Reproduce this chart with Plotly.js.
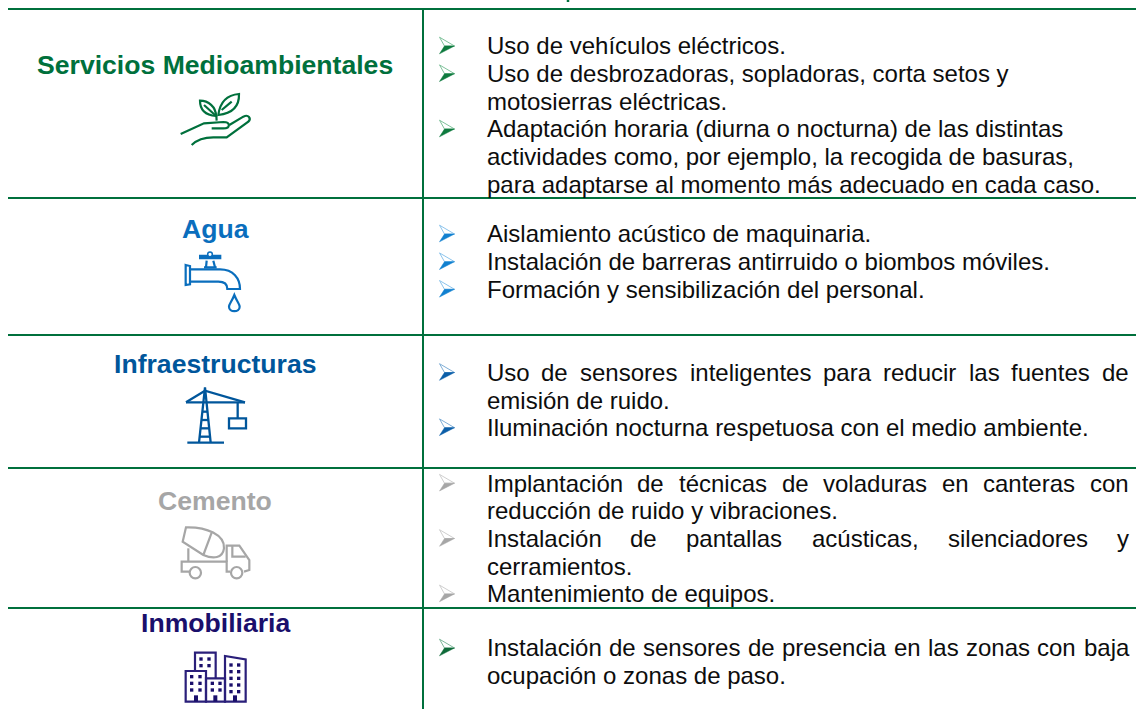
<!DOCTYPE html>
<html><head><meta charset="utf-8">
<script src="https://cdn.plot.ly/plotly-3.0.1.min.js"></script>
<style>html,body{margin:0;padding:0;background:#fff}#c{width:1136px;height:709px}</style>
</head><body><div id="c"></div>
<script>
// ---- content ----
const sectionNames = ["Servicios Medioambientales","Agua","Infraestructuras","Cemento","Inmobiliaria"];
const sectionColors = ["#00703c","#0a6ebd","#00569b","#a6a6a6","#1a0f6b"];
const bulletDark = ["#0e7a3e","#1080d0","#0b5ea8","#a6a6a6","#0e6a38"];
const bulletLight = ["#7fc29b","#8cc4ec","#7faed6","#cfcfcf","#7fb89b"];
const linesS1 = ["*Uso de vehículos eléctricos.","*Uso de desbrozadoras, sopladoras, corta setos y","motosierras eléctricas.","*Adaptación horaria (diurna o nocturna) de las distintas","actividades como, por ejemplo, la recogida de basuras,","para adaptarse al momento más adecuado en cada caso."];
const linesS2 = ["*Aislamiento acústico de maquinaria.","*Instalación de barreras antirruido o biombos móviles.","*Formación y sensibilización del personal."];
const linesS3 = ["*=Uso de sensores inteligentes para reducir las fuentes de","emisión de ruido.","*Iluminación nocturna respetuosa con el medio ambiente."];
const linesS4 = ["*=Implantación de técnicas de voladuras en canteras con","reducción de ruido y vibraciones.","*=Instalación de pantallas acústicas, silenciadores y","cerramientos.","*Mantenimiento de equipos."];
const linesS5 = ["*=Instalación de sensores de presencia en las zonas con baja","ocupación o zonas de paso."];
const allLines = [linesS1,linesS2,linesS3,linesS4,linesS5];

// ---- layout (pixels of the 1136x709 page) ----
const W=1136,H=709;
const ruleY=[9,198,335,468,608];
const ruleColor="#00703c";
const titleY=[65,229,364,501,623];
const baseY=[
 [53.5,81.2,108.8,136.5,164.1,191.8],
 [241.5,269.2,296.8],
 [380,407.6,435.2],
 [490.7,518.4,546,573.7,601.4],
 [655.5,683.2]
];
const textFont="Liberation Sans, Arial, sans-serif";
const textSize=24, titleSize=26.6, textX=485.5, textR=1128;

const shapes=[], annotations=[];
const ctx=document.createElement('canvas').getContext('2d');
ctx.font=textSize+'px "Liberation Sans"';

function txt(t,x,base,opt){
  annotations.push(Object.assign({xref:'x',yref:'y',x:x,y:base-7.6,text:t,showarrow:false,xanchor:'left',yanchor:'middle',
    borderpad:0,font:{family:textFont,size:textSize,color:'#0d0d0d'}},opt||{}));
}
function bullet(cy,col,light){
  const p=(a)=>a.map((q,i)=>(i?'L':'M')+q[0]+','+q[1]).join(' ')+' Z';
  shapes.push({type:'path',xref:'x',yref:'y',path:p([[439.5,cy-8.3],[454.5,cy+0.5],[444.5,cy+0.5]]),fillcolor:'#ffffff',line:{color:light,width:1},layer:'above'});
  shapes.push({type:'path',xref:'x',yref:'y',path:p([[444.5,cy+0.5],[454.5,cy+0.5],[439.5,cy+8.3]]),fillcolor:col,line:{color:col,width:0.5},layer:'above'});
}
// rules
ruleY.forEach(y=>shapes.push({type:'line',xref:'x',yref:'y',x0:8,x1:W,y0:y,y1:y,line:{color:ruleColor,width:2}}));
shapes.push({type:'line',xref:'x',yref:'y',x0:423,x1:423,y0:9,y1:H,line:{color:ruleColor,width:2}});
shapes.push({type:'line',xref:'x',yref:'y',x0:568,x1:568,y0:0,y1:2,line:{color:ruleColor,width:2.5}});

// titles
sectionNames.forEach((n,i)=>annotations.push({xref:'x',yref:'y',x:215,y:titleY[i],text:'<b>'+n+'</b>',showarrow:false,xanchor:'center',yanchor:'middle',borderpad:0,
  font:{family:textFont,size:titleSize,color:sectionColors[i]}}));

// body text
allLines.forEach((lines,s)=>lines.forEach((raw,l)=>{
  let t=raw, b=false, j=false;
  if(t[0]==='*'){b=true;t=t.slice(1);}
  if(t[0]==='='){j=true;t=t.slice(1);}
  const base=baseY[s][l];
  if(b) bullet(base-8,bulletDark[s],bulletLight[s]);
  if(j){
    const words=t.split(' ');
    const ws=words.map(w=>ctx.measureText(w).width);
    const gap=(textR-textX-ws.reduce((a,c)=>a+c,0))/(words.length-1);
    let x=textX;
    words.forEach((w,k)=>{txt(w,x,base);x+=ws[k]+gap;});
  } else txt(t,textX,base);
}));

// icons: paths written in 3x units, scaled to page pixels
function ipath(d,col,offY,w,fill){
  const s=d.replace(/(-?[\d.]+),(-?[\d.]+)/g,(m,a,b)=>(a/3).toFixed(2)+','+((+b)/3+offY).toFixed(2));
  shapes.push({type:'path',xref:'x',yref:'y',path:s,line:{color:col,width:w},fillcolor:fill||'rgba(0,0,0,0)',layer:'above'});
}
function icirc(cx,cy,r,col,offY,w){
  shapes.push({type:'circle',xref:'x',yref:'y',x0:(cx-r)/3,x1:(cx+r)/3,y0:(cy-r)/3+offY,y1:(cy+r)/3+offY,line:{color:col,width:w},fillcolor:'#ffffff',layer:'above'});
}
function irect(x0,y0,x1,y1,col,offY){
  shapes.push({type:'rect',xref:'x',yref:'y',x0:x0/3,x1:x1/3,y0:y0/3+offY,y1:y1/3+offY,line:{width:0},fillcolor:col,layer:'above'});
}
// hand with plant
[ "M648,348 C615,345 600,330 600,302 C625,302 648,320 648,348 Z","M612,315 L645,345",
  "M655,345 C660,305 680,285 717,282 C718,315 700,340 655,345 Z","M665,330 L695,305","M649,348 L650,362",
  "M542,402 L612,370 L670,366 C692,366 692,385 670,385 L635,385",
  "M575,435 C590,420 610,412 640,412 L680,412 L745,365 C755,355 745,342 730,350 L688,375"
].forEach(d=>ipath(d,sectionColors[0],0,2.2));
// faucet
const cF=sectionColors[1];
["M557,795 L570,798 L570,853 L557,855 Z",
 "M570,808 L660,808 C700,808 720,835 720,867 L682,867 C682,850 670,845 655,845 L570,845",
 "M620,782 L618,802 M640,782 L645,802 M612,802 L650,802",
 "M703,885 C695,905 687,912 687,920 C687,938 719,938 719,920 C719,912 711,905 703,885 Z"
].forEach(d=>ipath(d,cF,0,2.2));
ipath("M597,771 L664,771",cF,0,4.5);
icirc(630,763,7,cF,0,1.5);
// crane
const cC=sectionColors[2];
["M597,308 L615,142 L632,308","M558,187 L735,187","M558,187 L615,152 L735,187","M713,187 L713,235",
 "M687,235 L738,235 L738,265 L687,265 Z","M562,308 L672,308",
 "M608,215 L623,215","M605,240 L626,240","M602,265 L629,265","M599,290 L631,290"
].forEach(d=>ipath(d,cC,340,2.3));
// mixer truck
const cT=sectionColors[3];
["M558,562 C620,560 675,585 672,625 C668,655 640,658 610,645 L548,605 Z","M635,578 L610,645",
 "M565,625 L565,665","M568,695 L545,695 L545,665 L680,665 L680,695 L690,695",
 "M680,665 L680,617 L718,617 L748,660 L748,690 L732,695",
 "M697,618 L697,650 L737,650"
].forEach(d=>ipath(d,cT,340,2.2));
icirc(586,698,17,cT,340,2.2); icirc(710,698,17,cT,340,2.2);
// buildings
const cB="#2a1f7a";
["M585,993 L585,938 L647,938 L647,1015","M557,1085 L557,993 L618,993 L618,1085 Z",
 "M618,1015 L675,1015 L675,1085 L618,1085 Z","M675,1085 L675,948 L737,958 L737,1085 Z"
].forEach(d=>ipath(d,cB,340,2.2));
const winX=[[603,627],[575,600],[637,660],[693,716]], winY=[[957,977],[1010,1030,1050],[1030,1050],[975,995,1015,1035,1055]];
winX.forEach((xs,i)=>xs.forEach(x=>winY[i].forEach(y=>irect(x-5,y-5,x+5,y+5,sectionColors[4],340))));
[588,646,705].forEach(x=>irect(x-6,1066,x+6,1085,sectionColors[4],340));

Plotly.newPlot('c',[],{
  width:W,height:H,margin:{l:0,r:0,t:0,b:0},paper_bgcolor:'#fff',plot_bgcolor:'#fff',showlegend:false,
  xaxis:{range:[0,W],visible:false,fixedrange:true},
  yaxis:{range:[H,0],visible:false,fixedrange:true},
  shapes:shapes,annotations:annotations
},{displayModeBar:false,staticPlot:true});
</script></body></html>
